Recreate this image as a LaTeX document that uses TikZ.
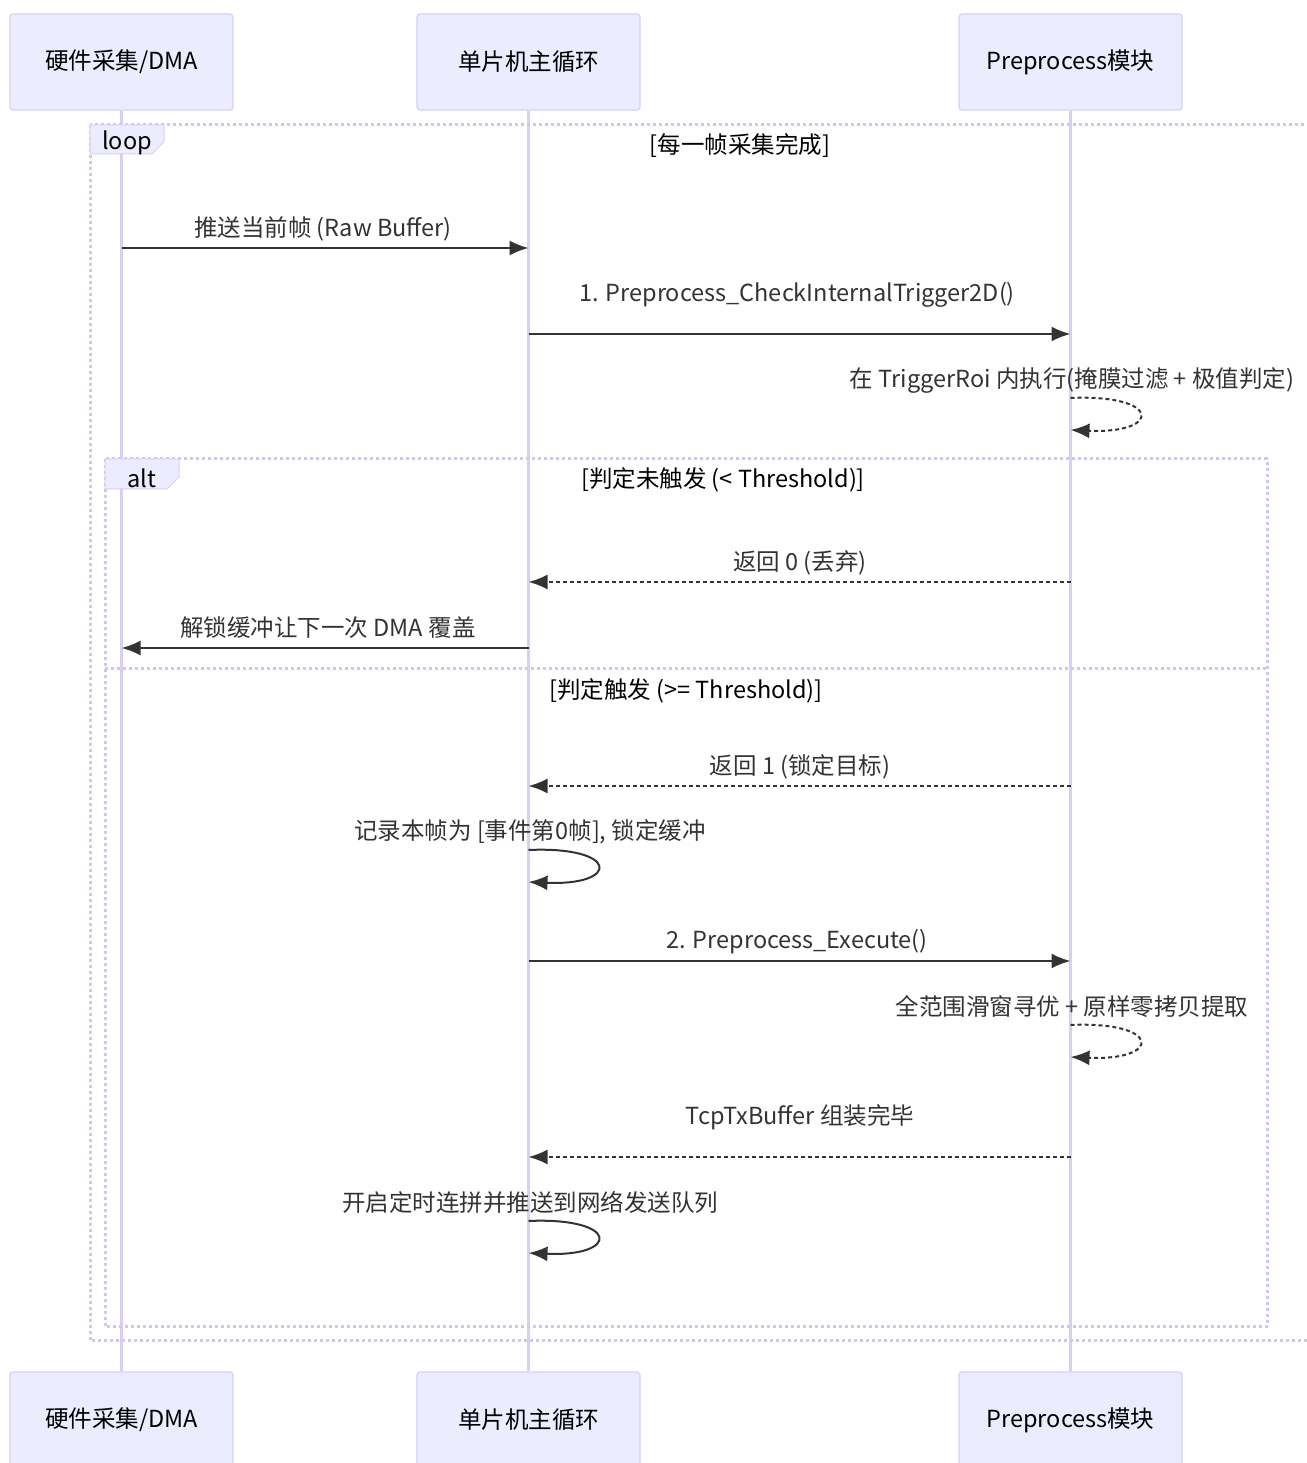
\documentclass[tikz,border=0pt]{standalone}
\usepackage{fontspec}
\setmainfont{Noto Sans CJK SC}
\usetikzlibrary{arrows.meta,backgrounds}
\definecolor{actorfill}{HTML}{ECECFF}
\definecolor{actorline}{HTML}{DACEF3}
\definecolor{framecol}{HTML}{D2C6F1}
\definecolor{msgcol}{HTML}{333333}
\tikzset{
  actor/.style={draw=actorline,fill=actorfill,line width=1.2bp,rounded corners=3bp,
    minimum width=223bp,minimum height=96bp,inner sep=0pt,text=black},
  life/.style={draw=actorline,line width=2.5bp},
  frame/.style={draw=framecol,line width=3bp,dash pattern=on 3bp off 3bp},
  tag/.style={draw=actorline,fill=actorfill,line width=1bp},
  lbl/.style={inner sep=0pt,text=msgcol},
  msg/.style={draw=msgcol,line width=2bp,->},
  ret/.style={draw=msgcol,line width=2bp,->,dash pattern=on 4bp off 3bp},
}
\begin{document}
\begin{tikzpicture}[>={Latex[length=19bp,width=15bp]},line join=bevel,
    font=\fontsize{23.5bp}{28bp}\selectfont]
    \useasboundingbox (0bp,0bp) rectangle (1307bp,1463bp);
    %% actors
    \node (hwtop) at (121.5bp,1401bp) [actor] {\raisebox{-3bp}{硬件采集/DMA}};
    \node (mcutop) at (528.5bp,1401bp) [actor] {\raisebox{-3bp}{单片机主循环}};
    \node (pretop) at (1070.5bp,1401bp) [actor] {\raisebox{-3bp}{Preprocess模块}};
    \node (hwbot) at (121.5bp,43bp) [actor] {\raisebox{-3bp}{硬件采集/DMA}};
    \node (mcubot) at (528.5bp,43bp) [actor] {\raisebox{-3bp}{单片机主循环}};
    \node (prebot) at (1070.5bp,43bp) [actor] {\raisebox{-3bp}{Preprocess模块}};
    \begin{pgfonlayer}{background}
    \draw [life] (hwtop.south) -- (hwbot.north);
    \draw [life] (mcutop.south) -- (mcubot.north);
    \draw [life] (pretop.south) -- (prebot.north);
    \end{pgfonlayer}
    %% loop frame
    \draw [frame] (90bp,1338bp) rectangle (1320bp,122bp);
    \draw [tag] (90bp,1338bp) -- (164bp,1338bp) -- (164bp,1321bp) -- (152bp,1309bp) -- (90bp,1309bp) -- cycle;
    \node (looptag) at (127bp,1320bp) [inner sep=0pt] {loop};
    \node (loopcond) at (740bp,1317bp) [inner sep=0pt] {[每一帧采集完成]};
    %% alt frame
    \draw [frame] (105bp,1004bp) rectangle (1267bp,136bp);
    \draw [frame] (105bp,794bp) -- (1267bp,794bp);
    \draw [tag] (105bp,1004bp) -- (179bp,1004bp) -- (179bp,986bp) -- (167bp,974bp) -- (105bp,974bp) -- cycle;
    \node (alttag) at (142bp,985bp) [inner sep=0pt] {alt};
    \node (altcond) at (723bp,983bp) [inner sep=0pt] {[判定未触发 (< Threshold)]};
    \node (elsecond) at (686bp,772bp) [inner sep=0pt] {[判定触发 (>= Threshold)]};
    %% message end points
    \coordinate (hw1) at (121.5bp,1215bp);
    \coordinate (mcu1) at (528.5bp,1215bp);
    \coordinate (mcu2) at (528.5bp,1129bp);
    \coordinate (pre2) at (1070.5bp,1129bp);
    \coordinate (pre3a) at (1070.5bp,1065bp);
    \coordinate (pre3b) at (1070.5bp,1033bp);
    \coordinate (pre4) at (1070.5bp,881bp);
    \coordinate (mcu4) at (528.5bp,881bp);
    \coordinate (mcu5) at (528.5bp,815bp);
    \coordinate (hw5) at (121.5bp,815bp);
    \coordinate (pre6) at (1070.5bp,677bp);
    \coordinate (mcu6) at (528.5bp,677bp);
    \coordinate (mcu7a) at (528.5bp,613bp);
    \coordinate (mcu7b) at (528.5bp,581bp);
    \coordinate (mcu8) at (528.5bp,502bp);
    \coordinate (pre8) at (1070.5bp,502bp);
    \coordinate (pre9a) at (1070.5bp,438bp);
    \coordinate (pre9b) at (1070.5bp,406bp);
    \coordinate (pre10) at (1070.5bp,306bp);
    \coordinate (mcu10) at (528.5bp,306bp);
    \coordinate (mcu11a) at (528.5bp,242bp);
    \coordinate (mcu11b) at (528.5bp,210bp);
    %% messages
    \node (t1) at (323bp,1234bp) [lbl] {推送当前帧 (Raw Buffer)};
    \draw [msg] (hw1) -- (mcu1);
    \node (t2) at (797bp,1168bp) [lbl] {1. Preprocess\_CheckInternalTrigger2D()};
    \draw [msg] (mcu2) -- (pre2);
    \node (t3) at (1072bp,1083bp) [lbl] {在 TriggerRoi 内执行(掩膜过滤 + 极值判定)};
    \draw [ret] (pre3a) ..controls (1162bp,1069bp) and (1162bp,1029bp) .. (pre3b);
    \node (t4) at (800bp,900bp) [lbl] {返回 0 (丢弃)};
    \draw [ret] (pre4) -- (mcu4);
    \node (t5) at (328bp,835bp) [lbl] {解锁缓冲让下一次 DMA 覆盖};
    \draw [msg] (mcu5) -- (hw5);
    \node (t6) at (800bp,696bp) [lbl] {返回 1 (锁定目标)};
    \draw [ret] (pre6) -- (mcu6);
    \node (t7) at (530bp,631bp) [lbl] {记录本帧为 [事件第0帧], 锁定缓冲};
    \draw [msg] (mcu7a) ..controls (620bp,617bp) and (620bp,577bp) .. (mcu7b);
    \node (t8) at (797bp,521bp) [lbl] {2. Preprocess\_Execute()};
    \draw [msg] (mcu8) -- (pre8);
    \node (t9) at (1072bp,456bp) [lbl] {全范围滑窗寻优 + 原样零拷贝提取};
    \draw [ret] (pre9a) ..controls (1162bp,442bp) and (1162bp,402bp) .. (pre9b);
    \node (t10) at (800bp,346bp) [lbl] {TcpTxBuffer 组装完毕};
    \draw [ret] (pre10) -- (mcu10);
    \node (t11) at (530bp,260bp) [lbl] {开启定时连拼并推送到网络发送队列};
    \draw [msg] (mcu11a) ..controls (620bp,246bp) and (620bp,206bp) .. (mcu11b);
    %
\end{tikzpicture}
\end{document}
